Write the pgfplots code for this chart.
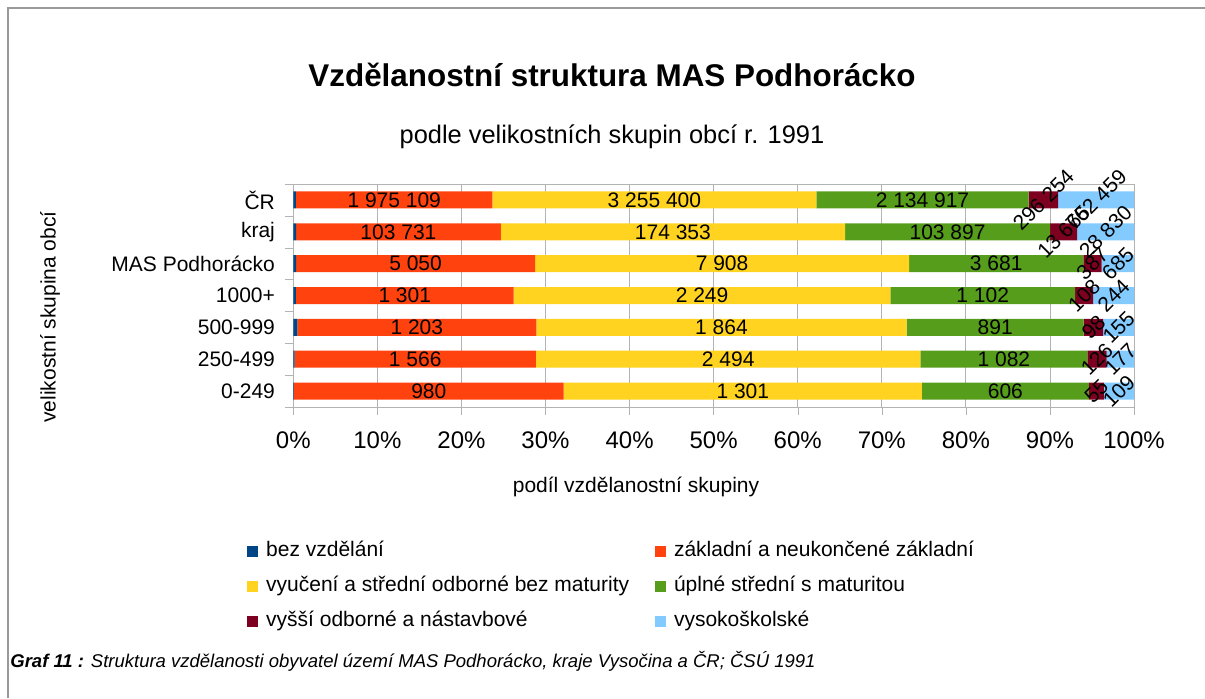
\documentclass[border=0pt]{standalone}
\usepackage{fontspec}
\setmainfont{Liberation Sans}
\usepackage{pgfplots}
\pgfplotsset{compat=1.18}
\usepackage{pgfplotstable}

\definecolor{cbez}{HTML}{004586}
\definecolor{czakl}{HTML}{FF420E}
\definecolor{cvyuc}{HTML}{FFD320}
\definecolor{cupl}{HTML}{579D1C}
\definecolor{cvyssi}{HTML}{7E0021}
\definecolor{cvs}{HTML}{83CAFF}
\definecolor{cgrid}{HTML}{B3B3B3}

% rows from bottom (0-249) to top (CR); total = sum of the six groups
\pgfplotstableread{
bez zakl vyuc upl vyssi vs total
2 980 1301 606 55 109 3053
8 1566 2494 1082 126 177 5453
20 1203 1864 891 98 155 4231
15 1301 2249 1102 108 244 5019
60 5050 7908 3681 387 685 17771
1400 103731 174353 103897 13665 28830 425876
27000 1975109 3255400 2134917 296254 762459 8451139
}\data

\pgfplotsset{
  base/.style={
    scale only axis, width=420.35pt, height=111.5pt,
    at={(146.65pt,-203.5pt)}, anchor=south west,
    xmin=0, xmax=100, ymin=-0.5, ymax=6.5,
  },
  lab/.style={draw=none, nodes near coords},
}

\begin{document}
\begin{tikzpicture}
\begin{axis}[base, xbar stacked, bar width=8.5pt,
  axis line style={cgrid}, tick style={cgrid},
  tick align=outside, tick pos=left,
  major tick length=4pt,
  xtick={0,10,...,100},
  xticklabels={0\%,10\%,20\%,30\%,40\%,50\%,60\%,70\%,80\%,90\%,100\%},
  xticklabel style={font=\fontsize{12}{14}\selectfont, inner sep=0pt, yshift=-8pt},
  xmajorgrids, grid style={cgrid},
  ytick={-0.5,0.5,...,6.5}, yticklabels={,,,,,,,,},
  yticklabel style={font=\fontsize{10.5}{12}\selectfont, inner sep=0pt, xshift=-9pt},
  extra y ticks={0,1,2,3,4,5,6},
  extra y tick labels={0-249,250-499,500-999,1000+,MAS Podhorácko,kraj,ČR},
  extra y tick style={major tick length=0pt, grid=none},
  legend columns=2,
  legend cell align=left,
  legend image code/.code={\fill[#1] (0pt,-2.7pt) rectangle (5.4pt,2.7pt);},
  legend style={at={(-0.0551,-0.598)}, anchor=north west, draw=none, fill=none,
    inner sep=0pt, row sep=7pt, column sep=4pt,
    font=\fontsize{10.5}{12}\selectfont,
    nodes={inner sep=0pt, text height=8pt, text depth=2.5pt},
    /tikz/every even column/.append style={column sep=13pt}},
]
\addplot[fill=cbez, draw=none] table[x expr=\thisrow{bez}/\thisrow{total}*100, y expr=\coordindex]{\data};
\addplot[fill=czakl, draw=none] table[x expr=\thisrow{zakl}/\thisrow{total}*100, y expr=\coordindex]{\data};
\addplot[fill=cvyuc, draw=none] table[x expr=\thisrow{vyuc}/\thisrow{total}*100, y expr=\coordindex]{\data};
\addplot[fill=cupl, draw=none] table[x expr=\thisrow{upl}/\thisrow{total}*100, y expr=\coordindex]{\data};
\addplot[fill=cvyssi, draw=none] table[x expr=\thisrow{vyssi}/\thisrow{total}*100, y expr=\coordindex]{\data};
\addplot[fill=cvs, draw=none] table[x expr=\thisrow{vs}/\thisrow{total}*100, y expr=\coordindex]{\data};
\legend{bez vzdělání, základní a neukončené základní, vyučení a střední odborné bez maturity, úplné střední s maturitou, vyšší odborné a nástavbové, vysokoškolské}
\end{axis}

% value labels in the middle of each segment
\begin{axis}[base, hide axis, clip=false,
  every node near coord/.style={anchor=center, black, font=\fontsize{10.5}{12}\selectfont, inner sep=0pt},
  /pgf/number format/fixed, /pgf/number format/precision=0,
  /pgf/number format/1000 sep={\ }, /pgf/number format/assume math mode=true]
\addplot[lab, point meta=\thisrow{zakl}] table[x expr={(\thisrow{bez}+0.5*\thisrow{zakl})/\thisrow{total}*100}, y expr=\coordindex]{\data};
\addplot[lab, point meta=\thisrow{vyuc}] table[x expr={(\thisrow{bez}+\thisrow{zakl}+0.5*\thisrow{vyuc})/\thisrow{total}*100}, y expr=\coordindex]{\data};
\addplot[lab, point meta=\thisrow{upl}] table[x expr={(\thisrow{bez}+\thisrow{zakl}+\thisrow{vyuc}+0.5*\thisrow{upl})/\thisrow{total}*100}, y expr=\coordindex]{\data};
\addplot[lab, point meta=\thisrow{vyssi}, nodes near coords style={rotate=45}] table[x expr={(\thisrow{total}-\thisrow{vs}-0.5*\thisrow{vyssi})/\thisrow{total}*100}, y expr=\coordindex]{\data};
\addplot[lab, point meta=\thisrow{vs}, nodes near coords style={rotate=45}] table[x expr={(\thisrow{total}-0.5*\thisrow{vs})/\thisrow{total}*100}, y expr=\coordindex]{\data};
\end{axis}

\begin{scope}[x=0.5pt, y=-0.5pt]
\draw[gray!80, line width=0.6pt] (8,698) -- (8,8) -- (1205,8);
\node[font=\fontsize{15.7}{18}\selectfont\bfseries] at (612,75) {Vzdělanostní struktura MAS Podhorácko};
\node[font=\fontsize{12.7}{15}\selectfont] at (612,137) {podle velikostních skupin obcí r. 1991};
\node[font=\fontsize{10.5}{12}\selectfont] at (636,487) {podíl vzdělanostní skupiny};
\node[font=\fontsize{10.5}{12}\selectfont, rotate=90] at (50,317) {velikostní skupina obcí};
\node[font=\fontsize{9.25}{11}\selectfont\itshape, anchor=west, inner sep=0pt] at (10,661) {\textbf{Graf 11 :} Struktura vzdělanosti obyvatel území MAS Podhorácko, kraje Vysočina a ČR; ČSÚ 1991};
\end{scope}
\pgfresetboundingbox
\path[use as bounding box] (0pt,0pt) rectangle (602.5pt,-349pt);
\end{tikzpicture}
\end{document}
